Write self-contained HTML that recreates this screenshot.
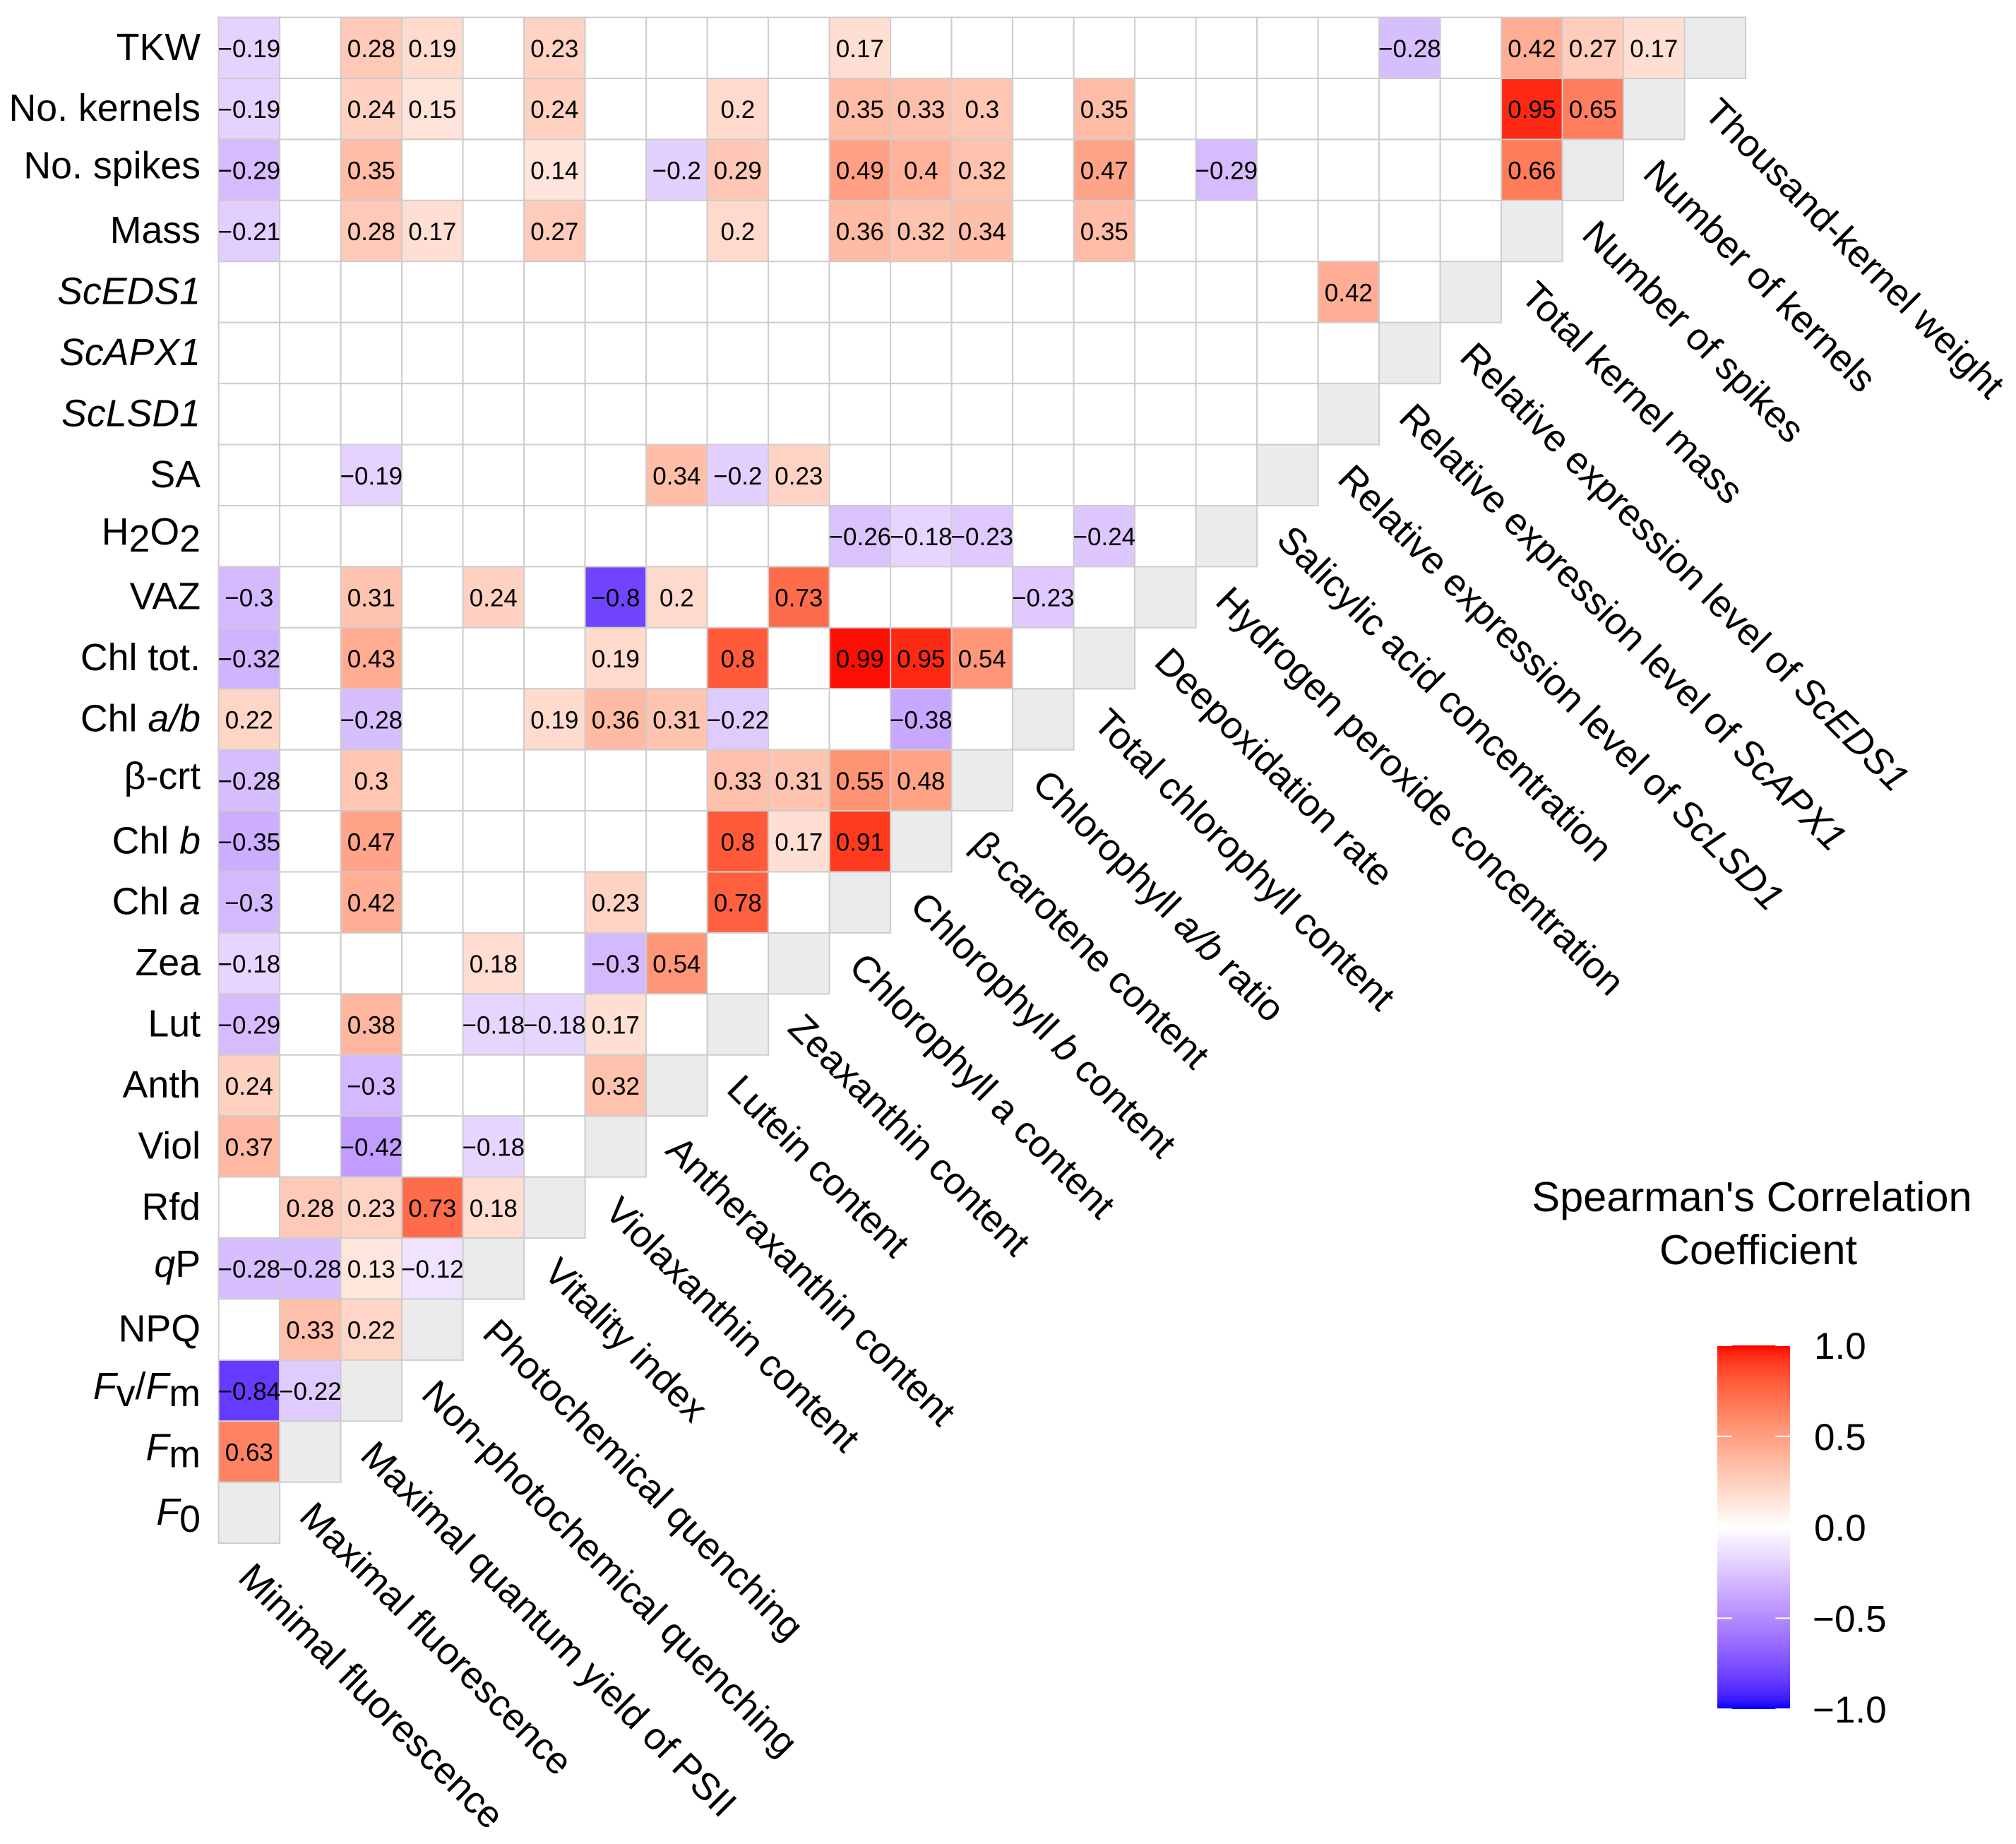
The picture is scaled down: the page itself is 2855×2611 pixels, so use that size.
<!DOCTYPE html>
<html lang="en">
<head>
<meta charset="utf-8">
<title>Spearman's correlation heatmap</title>
<style>
html,body{margin:0;padding:0;background:#fff;}
svg{display:block;}
text{font-family:"Liberation Sans",Arial,sans-serif;fill:#000;}
</style>
</head>
<body>
<svg id="chart" xmlns="http://www.w3.org/2000/svg" width="2855" height="2611" viewBox="0 0 2855 2611">
  <rect x="0" y="0" width="2855" height="2611" fill="#ffffff"/>
  <g id="cells"></g>
  <g id="values"></g>
  <g id="ylabels"></g>
  <g id="xlabels"></g>
  <g id="legend">
    <text x="2481" y="1715" font-size="59.5" text-anchor="middle">Spearman's Correlation</text>
    <text x="2490" y="1790" font-size="59.5" text-anchor="middle">Coefficient</text>
  </g>
</svg>
<script>
const n = null;
// Row labels, top to bottom. {x} = italic, [x] = subscript.
const rowLabels = ["TKW","No. kernels","No. spikes","Mass","{ScEDS1}","{ScAPX1}","{ScLSD1}","SA","H[2]O[2]","VAZ","Chl tot.","Chl {a/b}","β-crt","Chl {b}","Chl {a}","Zea","Lut","Anth","Viol","Rfd","{q}P","NPQ","{F}[v]/{F}[m]","{F}[m]","{F}[0]"];
// Column labels, left to right.
const colLabels = ["Minimal fluorescence","Maximal fluorescence","Maximal quantum yield of PSII","Non-photochemical quenching","Photochemical quenching","Vitality index","Violaxanthin content","Antheraxanthin content","Lutein content","Zeaxanthin content","Chlorophyll a content","Chlorophyll {b} content","β-carotene content","Chlorophyll {a/b} ratio","Total chlorophyll content","Deepoxidation rate","Hydrogen peroxide concentration","Salicylic acid concentration","Relative expression level of {ScLSD1}","Relative expression level of {ScAPX1}","Relative expression level of {ScEDS1}","Total kernel mass","Number of spikes","Number of kernels","Thousand-kernel weight"];

// Significant correlations per row, left to right up to the diagonal.
const rowTKW     = [-0.19,n,0.28,0.19,n,0.23,n,n,n,n,0.17,n,n,n,n,n,n,n,n,-0.28,n,0.42,0.27,0.17];
const rowKernels = [-0.19,n,0.24,0.15,n,0.24,n,n,0.2,n,0.35,0.33,0.3,n,0.35,n,n,n,n,n,n,0.95,0.65];
const rowSpikes  = [-0.29,n,0.35,n,n,0.14,n,-0.2,0.29,n,0.49,0.4,0.32,n,0.47,n,-0.29,n,n,n,n,0.66];
const rowMass    = [-0.21,n,0.28,0.17,n,0.27,n,n,0.2,n,0.36,0.32,0.34,n,0.35,n,n,n,n,n,n];
const rowEDS1    = [n,n,n,n,n,n,n,n,n,n,n,n,n,n,n,n,n,n,0.42,n];
const rowAPX1    = [n,n,n,n,n,n,n,n,n,n,n,n,n,n,n,n,n,n,n];
const rowLSD1    = [n,n,n,n,n,n,n,n,n,n,n,n,n,n,n,n,n,n];
const rowSA      = [n,n,-0.19,n,n,n,n,0.34,-0.2,0.23,n,n,n,n,n,n,n];
const rowH2O2    = [n,n,n,n,n,n,n,n,n,n,-0.26,-0.18,-0.23,n,-0.24,n];
const rowVAZ     = [-0.3,n,0.31,n,0.24,n,-0.8,0.2,n,0.73,n,n,n,-0.23,n];
const rowChlTot  = [-0.32,n,0.43,n,n,n,0.19,n,0.8,n,0.99,0.95,0.54,n];
const rowChlAB   = [0.22,n,-0.28,n,n,0.19,0.36,0.31,-0.22,n,n,-0.38,n];
const rowBCrt    = [-0.28,n,0.3,n,n,n,n,n,0.33,0.31,0.55,0.48];
const rowChlB    = [-0.35,n,0.47,n,n,n,n,n,0.8,0.17,0.91];
const rowChlA    = [-0.3,n,0.42,n,n,n,0.23,n,0.78,n];
const rowZea     = [-0.18,n,n,n,0.18,n,-0.3,0.54,n];
const rowLut     = [-0.29,n,0.38,n,-0.18,-0.18,0.17,n];
const rowAnth    = [0.24,n,-0.3,n,n,n,0.32];
const rowViol    = [0.37,n,-0.42,n,-0.18,n];
const rowRfd     = [n,0.28,0.23,0.73,0.18];
const rowQP      = [-0.28,-0.28,0.13,-0.12];
const rowNPQ     = [n,0.33,0.22];
const rowFvFm    = [-0.84,-0.22];
const rowFm      = [0.63];
const rowF0      = [];
const rows = [rowTKW,rowKernels,rowSpikes,rowMass,rowEDS1,rowAPX1,rowLSD1,rowSA,rowH2O2,rowVAZ,rowChlTot,rowChlAB,rowBCrt,rowChlB,rowChlA,rowZea,rowLut,rowAnth,rowViol,rowRfd,rowQP,rowNPQ,rowFvFm,rowFm,rowF0];

const legendTicks = [1, 0.5, 0, -0.5, -1];
const legendTickLabels = ["1.0","0.5","0.0","−0.5","−1.0"];

const SVGNS = "http://www.w3.org/2000/svg";
const X0 = 309.6, Y0 = 24.6, CW = 86.5, CH = 86.42;
const LABEL_SIZE = 53.7;
const xPos = c => X0 + c * CW;
const yPos = r => Y0 + r * CH;
const legendY = v => 2162.5 - v * 257.5;
const slug = s => s.replace(/[{}\[\]]/g, "").toLowerCase().replace(/[^a-z0-9β]+/g, "-");

function toLab(rgb) {
  const f = rgb.map(u => { u /= 255; return u > 0.04045 ? Math.pow((u + 0.055) / 1.055, 2.4) : u / 12.92; });
  const X = (0.4124 * f[0] + 0.3576 * f[1] + 0.1805 * f[2]) / 0.95047;
  const Y = 0.2126 * f[0] + 0.7152 * f[1] + 0.0722 * f[2];
  const Z = (0.0193 * f[0] + 0.1192 * f[1] + 0.9505 * f[2]) / 1.08883;
  const g = t => t > 0.008856 ? Math.cbrt(t) : 7.787 * t + 16 / 116;
  return [116 * g(Y) - 16, 500 * (g(X) - g(Y)), 200 * (g(Y) - g(Z))];
}
function fromLab(L, a, b) {
  const fy = (L + 16) / 116, fx = a / 500 + fy, fz = fy - b / 200;
  const h = t => t * t * t > 0.008856 ? t * t * t : (t - 16 / 116) / 7.787;
  const X = 0.95047 * h(fx), Y = h(fy), Z = 1.08883 * h(fz);
  const lin = [3.2406 * X - 1.5372 * Y - 0.4986 * Z, -0.9689 * X + 1.8758 * Y + 0.0415 * Z, 0.0557 * X - 0.204 * Y + 1.057 * Z];
  const out = lin.map(u => {
    const v = u > 0.0031308 ? 1.055 * Math.pow(u, 1 / 2.4) - 0.055 : 12.92 * u;
    return Math.max(0, Math.min(255, Math.round(v * 255)));
  });
  return "rgb(" + out.join(",") + ")";
}
const labWhite = toLab([255, 255, 255]), labRed = toLab([255, 0, 0]), labBlue = toLab([0, 0, 255]);
function colour(v) {
  const end = v >= 0 ? labRed : labBlue, t = Math.abs(v);
  return fromLab(labWhite[0] + (end[0] - labWhite[0]) * t, labWhite[1] + (end[1] - labWhite[1]) * t, labWhite[2] + (end[2] - labWhite[2]) * t);
}

// Fill a <text> with plain, {italic} and [subscript] runs.
function richText(el, spec) {
  const parts = spec.match(/\{[^}]*\}|\[[^\]]*\]|[^{\[]+/g) || [];
  let pendingUp = 0;
  parts.forEach(p => {
    const t = document.createElementNS(SVGNS, "tspan");
    let dy = pendingUp;
    pendingUp = 0;
    if (p[0] === "{") {
      t.setAttribute("font-style", "italic");
      t.textContent = p.slice(1, -1);
    } else if (p[0] === "[") {
      dy += 10;
      pendingUp = -10;
      t.textContent = p.slice(1, -1);
    } else {
      t.textContent = p;
    }
    if (dy) t.setAttribute("dy", dy);
    el.appendChild(t);
  });
}

const cellsG = document.getElementById("cells");
const valuesG = document.getElementById("values");
const ylabelsG = document.getElementById("ylabels");
const xlabelsG = document.getElementById("xlabels");
const legendG = document.getElementById("legend");

rows.forEach((row, r) => {
  const diag = rows.length - 1 - r;
  for (let c = 0; c <= diag; c++) {
    const v = c < row.length ? row[c] : n;
    const rect = document.createElementNS(SVGNS, "rect");
    rect.setAttribute("x", xPos(c));
    rect.setAttribute("y", yPos(r));
    rect.setAttribute("width", CW);
    rect.setAttribute("height", CH);
    rect.setAttribute("fill", c === diag ? "#ebebeb" : (v === n ? "#ffffff" : colour(v)));
    rect.setAttribute("stroke", "#cdcdcd");
    rect.setAttribute("stroke-width", "2");
    
    
    cellsG.appendChild(rect);
    if (c !== diag && v !== n) {
      const t = document.createElementNS(SVGNS, "text");
      t.setAttribute("x", xPos(c) + CW / 2);
      t.setAttribute("y", yPos(r) + CH / 2 + 13);
      t.setAttribute("font-size", "35");
      t.setAttribute("text-anchor", "middle");
      
      
      t.textContent = String(v).replace("-", "−");
      valuesG.appendChild(t);
    }
  }
});

rowLabels.forEach((lab, r) => {
  const t = document.createElementNS(SVGNS, "text");
  const lowered = /[pqβ]|\[[vm2]\]/.test(lab);
  t.setAttribute("x", 284);
  t.setAttribute("y", yPos(r) + CH / 2 + (lowered ? 12 : 17));
  t.setAttribute("font-size", LABEL_SIZE);
  t.setAttribute("text-anchor", "end");
  
  
  richText(t, lab);
  ylabelsG.appendChild(t);
});

colLabels.forEach((lab, c) => {
  const t = document.createElementNS(SVGNS, "text");
  const r = rows.length - 1 - c;
  const ax = xPos(c) + CW / 2 - 18;
  const ay = yPos(r) + CH + 51;
  t.setAttribute("transform", "translate(" + ax + "," + ay + ") rotate(45)");
  t.setAttribute("font-size", LABEL_SIZE);
  
  
  richText(t, lab);
  xlabelsG.appendChild(t);
});

// Legend colour bar
const defs = document.createElementNS(SVGNS, "defs");
const grad = document.createElementNS(SVGNS, "linearGradient");
grad.setAttribute("id", "legend-gradient");
grad.setAttribute("x1", "0");
grad.setAttribute("y1", "0");
grad.setAttribute("x2", "0");
grad.setAttribute("y2", "1");
for (let i = 0; i <= 40; i++) {
  const stop = document.createElementNS(SVGNS, "stop");
  stop.setAttribute("offset", i / 40);
  stop.setAttribute("stop-color", colour(1 - i / 20));
  grad.appendChild(stop);
}
defs.appendChild(grad);
legendG.appendChild(defs);

const bar = document.createElementNS(SVGNS, "rect");
bar.setAttribute("x", 2432);
bar.setAttribute("y", legendY(1));
bar.setAttribute("width", 103);
bar.setAttribute("height", legendY(-1) - legendY(1));
bar.setAttribute("fill", "url(#legend-gradient)");


legendG.appendChild(bar);

legendTicks.forEach((v, i) => {
  [[2432, 2452.6], [2514.4, 2535]].forEach(seg => {
    const line = document.createElementNS(SVGNS, "line");
    line.setAttribute("x1", seg[0]);
    line.setAttribute("x2", seg[1]);
    line.setAttribute("y1", legendY(v));
    line.setAttribute("y2", legendY(v));
    line.setAttribute("stroke", "#ffffff");
    line.setAttribute("stroke-width", "2");
    
    
    legendG.appendChild(line);
  });
  const t = document.createElementNS(SVGNS, "text");
  t.setAttribute("x", legendTickLabels[i][0] === "−" ? 2567 : 2569);
  t.setAttribute("y", legendY(v) + 19);
  t.setAttribute("font-size", "53");
  
  
  t.textContent = legendTickLabels[i];
  legendG.appendChild(t);
});
</script>
</body>
</html>
